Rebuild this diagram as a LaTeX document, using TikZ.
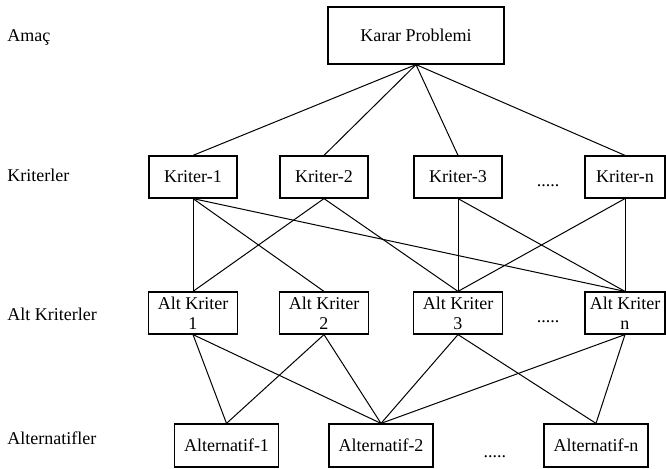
\documentclass[tikz,border=0pt]{standalone}
\usepackage{fontspec}
\setmainfont{Liberation Serif}
\usetikzlibrary{positioning}

\begin{document}
\begin{tikzpicture}[x=0.5pt,y=-0.5pt,
    box/.style={draw,line width=0.6pt,inner sep=0pt,align=center,
      minimum width=44pt,minimum height=21pt,font=\fontsize{9}{10}\selectfont},
    level/.style={anchor=west,inner sep=0pt,font=\fontsize{9}{10}\selectfont},
    more/.style={anchor=base,inner sep=0pt,font=\fontsize{9}{10}\selectfont},
    conn/.style={line width=0.5pt}]

    \useasboundingbox (0,0) rectangle (666,469);

    % Levels on the left
    \node[level] (lgoal) at (7,37) {Amaç};
    \node[level] (lcrit) at (7,175) {Kriterler};
    \node[level] (lsub) at (7,314) {Alt Kriterler};
    \node[level] (lalt) at (7,438) {Alternatifler};

    % Goal
    \node[box,minimum width=88pt,minimum height=28.5pt] (goal) at (416,35.5) {Karar Problemi};

    % Criteria
    \node[box] (k1) at (193,177) {Kriter-1};
    \node[box] (k2) [right of=k1,node distance=65.5pt] {Kriter-2};
    \node[box] (k3) [right of=k2,node distance=67pt] {Kriter-3};
    \node[box,minimum width=40pt] (kn) [right of=k3,node distance=83.5pt] {Kriter-n};
    \node[more] (kdots) at (548,187) {.....};

    % Sub criteria
    \node[box,minimum width=44.5pt] (ak1) [below of=k1,node distance=68pt] {Alt Kriter\\1};
    \node[box,minimum width=44.5pt] (ak2) [below of=k2,node distance=68pt] {Alt Kriter\\2};
    \node[box,minimum width=44.5pt] (ak3) [below of=k3,node distance=68pt] {Alt Kriter\\3};
    \node[box,minimum width=40pt] (akn) [below of=kn,node distance=68pt] {Alt Kriter\\n};
    \node[more] (akdots) at (548,323) {.....};

    % Alternatives
    \node[box,minimum width=52pt,minimum height=21.5pt] (alt1) at (226.5,445.5) {Alternatif-1};
    \node[box,minimum width=52pt,minimum height=21.5pt] (alt2) [right of=alt1,node distance=77.25pt] {Alternatif-2};
    \node[box,minimum width=52pt,minimum height=21.5pt] (altn) [right of=alt2,node distance=107.5pt] {Alternatif-n};
    \node[more] (altdots) at (495,458) {.....};

    \path[conn]
    % Goal to criteria
    (goal.south) edge (k1.north)
    edge (k2.north)
    edge (k3.north)
    edge (kn.north)
    % Criteria to sub criteria
    (k1.south) edge (ak1.north)
    edge (ak2.north)
    edge (akn.north)
    (k2.south) edge (ak1.north)
    edge (ak3.north)
    (k3.south) edge (ak3.north)
    edge (akn.north)
    (kn.south) edge (ak3.north)
    edge (akn.north)
    % Sub criteria to alternatives
    (ak1.south) edge (alt1.north)
    edge (alt2.north)
    (ak2.south) edge (alt1.north)
    edge (alt2.north)
    (ak3.south) edge (alt2.north)
    edge (altn.north)
    (akn.south) edge (alt2.north)
    edge (altn.north);
  \end{tikzpicture}
\end{document}
